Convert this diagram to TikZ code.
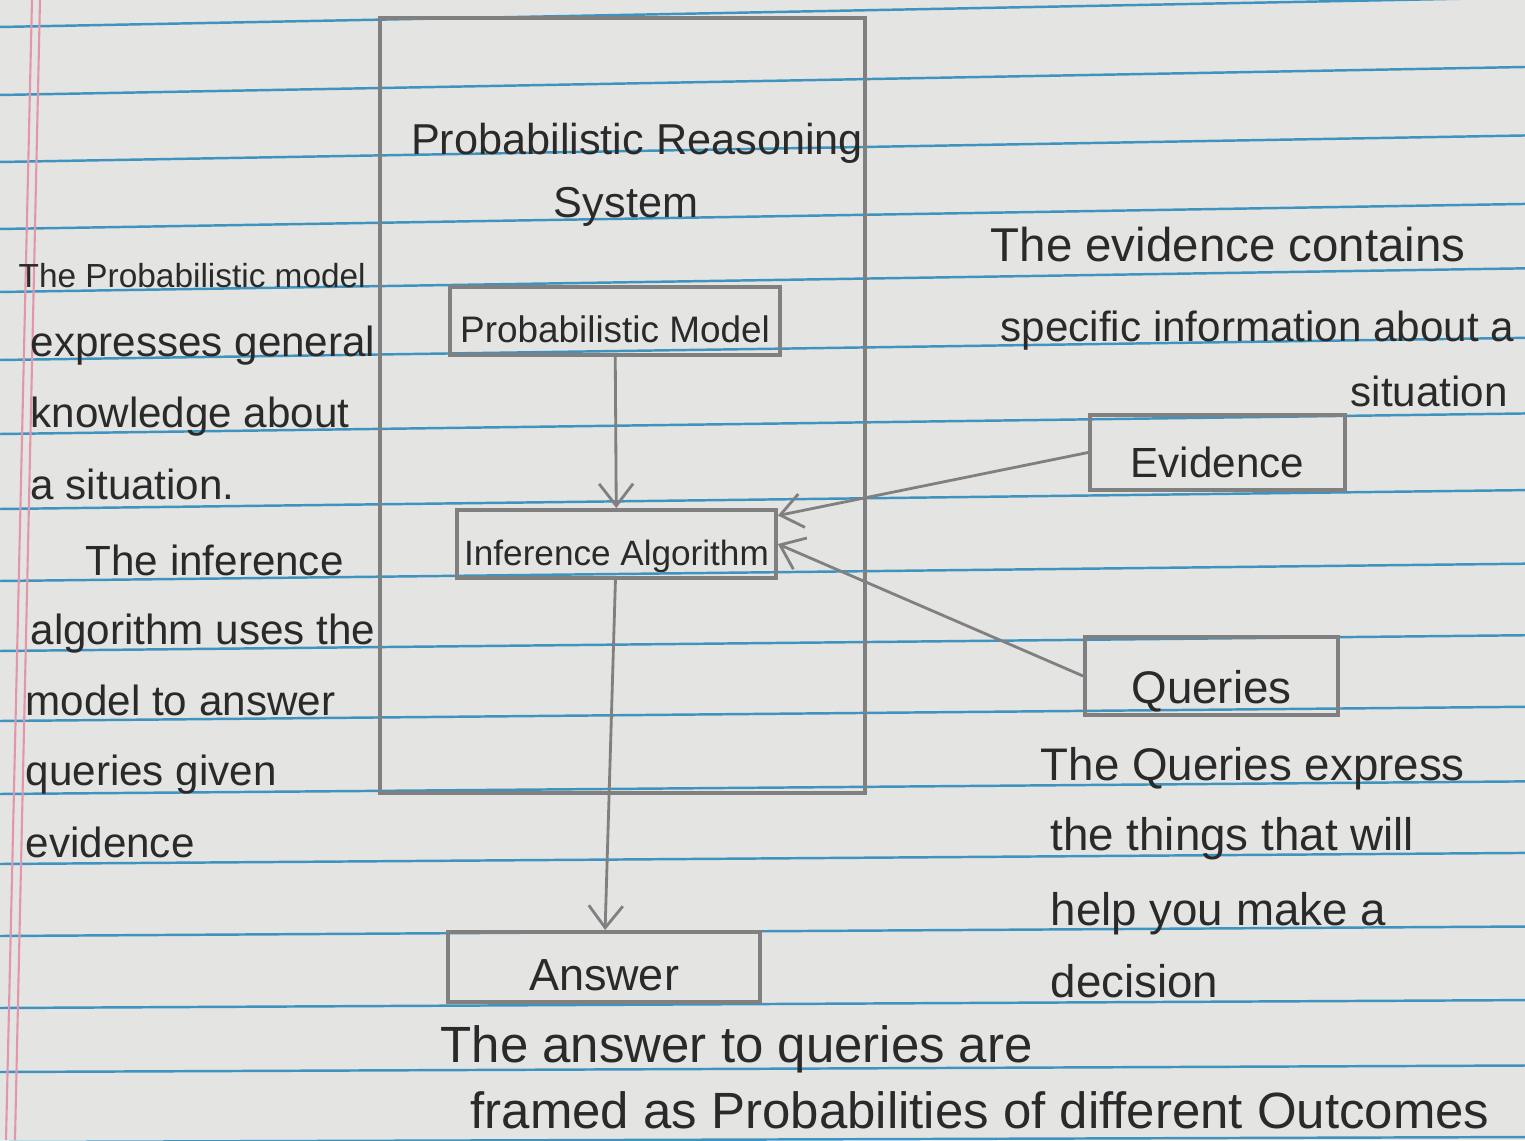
\documentclass[tikz,border=0pt]{standalone}
\usepackage{fontspec}
\setmainfont{Liberation Sans}
\usepackage{xcolor}
\usetikzlibrary{arrows.meta}

\definecolor{paper}{RGB}{228,228,226}
\definecolor{rulecol}{RGB}{62,148,190}
\definecolor{margincol}{RGB}{226,150,172}
\definecolor{pencil}{RGB}{128,128,128}
\definecolor{ink}{RGB}{42,42,42}

\newcommand{\handsize}[1]{\fontsize{#1}{#1}\selectfont}

\tikzset{
  hand/.style={anchor=base west, inner sep=0pt, text=ink},
  boxed/.style={draw=pencil, line width=1.1pt, inner xsep=2pt, inner ysep=0.04cm,
                text depth=0.08cm, text=ink},
  flowline/.style={draw=pencil, line width=0.8pt, -{Straight Barb[length=2.2mm,width=3.4mm]}},
  ruled/.style={draw=rulecol, line width=0.7pt}
}

\begin{document}
\begin{tikzpicture}
    % Paper
    \fill[paper] (0,0) rectangle (15.25,11.40);
    \useasboundingbox (0,0) rectangle (15.25,11.40);
    \foreach \y in {11.13,10.45,9.78,9.11,8.48,7.80,7.06,6.31,5.59,4.89,4.19,3.46,2.76,2.04,1.32,0.68,-0.02}
        \draw[ruled] (0,\y) -- (15.25,{\y+0.05+0.022*\y});
    \draw[margincol, line width=0.6pt] (0.32,11.40) -- (0.06,0);
    \draw[margincol, line width=0.6pt] (0.40,11.40) -- (0.15,0);

    % System box
    \node[draw=pencil, line width=1.1pt, minimum width=4.85cm, minimum height=7.75cm] (sys) at (6.225,7.345) {};
    \node[hand, anchor=base, font=\handsize{12.3}] (title1) at (6.37,9.85) {Probabilistic Reasoning};
    \node[hand, anchor=base, font=\handsize{12.3}] (title2) at (6.26,9.22) {System};

    % Blocks
    \node[boxed, minimum width=3.30cm, minimum height=0.68cm, text height=0.52cm, font=\handsize{10.5}] (model) at (6.15,8.19) {Probabilistic Model};
    \node[boxed, minimum width=3.17cm, minimum height=0.68cm, text height=0.52cm, font=\handsize{10}] (inf) at (6.165,5.96) {Inference Algorithm};
    \node[boxed, minimum width=2.55cm, minimum height=0.75cm, text height=0.59cm, font=\handsize{12}] (ev) at (12.175,6.875) {Evidence};
    \node[boxed, minimum width=2.53cm, minimum height=0.78cm, text height=0.62cm, font=\handsize{13}] (qu) at (12.115,4.64) {Queries};
    \node[boxed, minimum width=3.12cm, minimum height=0.70cm, text height=0.54cm, font=\handsize{12.8}] (ans) at (6.04,1.73) {Answer};

    % Arrows
    \draw[flowline] (model) -- (inf);
    \draw[flowline] (ev.west) -- (inf.10);
    \draw[flowline] (qu.west) -- (inf.east);
    \draw[flowline] (inf) -- (ans);

    % Notes on the left
    \node[hand, font=\handsize{9.5}] (pm1) at (0.18,8.52) {The Probabilistic model};
    \node[hand, font=\handsize{12}] (pm2) at (0.30,7.83) {expresses general};
    \node[hand, font=\handsize{12}] (pm3) at (0.30,7.12) {knowledge about};
    \node[hand, font=\handsize{12}] (pm4) at (0.30,6.40) {a situation.};
    \node[hand, font=\handsize{12}] (ia1) at (0.85,5.65) {The inference};
    \node[hand, font=\handsize{12}] (ia2) at (0.30,4.95) {algorithm uses the};
    \node[hand, font=\handsize{12}] (ia3) at (0.25,4.25) {model to answer};
    \node[hand, font=\handsize{12}] (ia4) at (0.25,3.55) {queries given};
    \node[hand, font=\handsize{12}] (ia5) at (0.25,2.83) {evidence};

    % Notes on the right
    \node[hand, font=\handsize{13.5}] (ev1) at (9.90,8.78) {The evidence contains};
    \node[hand, font=\handsize{12}] (ev2) at (10.00,7.98) {specific information about a};
    \node[hand, font=\handsize{12}] (ev3) at (13.50,7.33) {situation};
    \node[hand, font=\handsize{13}] (qn1) at (10.40,3.60) {The Queries express};
    \node[hand, font=\handsize{13}] (qn2) at (10.50,2.90) {the things that will};
    \node[hand, font=\handsize{13}] (qn3) at (10.50,2.15) {help you make a};
    \node[hand, font=\handsize{13}] (qn4) at (10.50,1.43) {decision};

    % Note at the bottom
    \node[hand, font=\handsize{14.5}] (an1) at (4.40,0.78) {The answer to queries are};
    \node[hand, font=\handsize{14.5}] (an2) at (4.70,0.12) {framed as Probabilities of different Outcomes};
\end{tikzpicture}
\end{document}
